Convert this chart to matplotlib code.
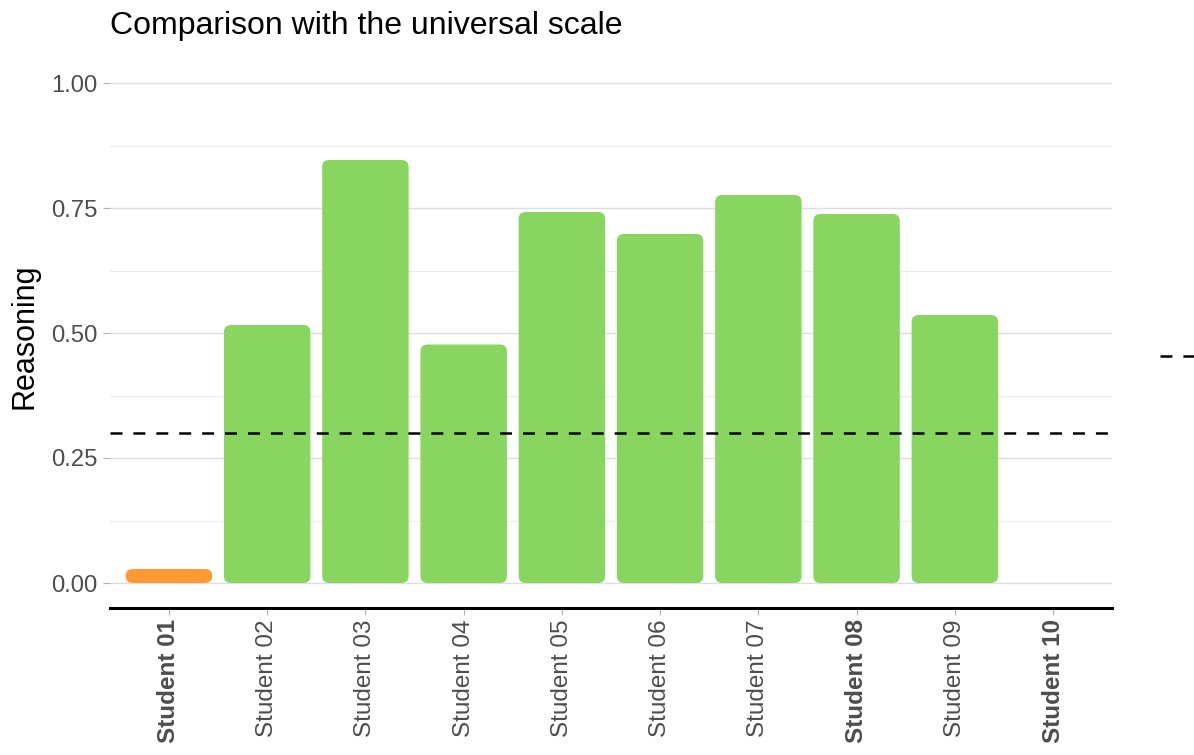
import matplotlib
matplotlib.use("Agg")
from matplotlib import pyplot as plt
from matplotlib.patches import FancyBboxPatch
from matplotlib.lines import Line2D

plt.rcParams['font.family'] = ['Liberation Sans', 'DejaVu Sans']
plt.rcParams['lines.scale_dashes'] = False

# data
students = ['Student 01', 'Student 02', 'Student 03', 'Student 04', 'Student 05',
            'Student 06', 'Student 07', 'Student 08', 'Student 09', 'Student 10']
reasoning = [0.028, 0.516, 0.846, 0.477, 0.742, 0.698, 0.776, 0.738, 0.536, 0.0]
universal = 0.30
bold_students = ['Student 01', 'Student 08', 'Student 10']

GREEN = '#88D660'
ORANGE = '#FF9A33'

fig = plt.figure(figsize=(11.94, 7.55), dpi=100)
ax = fig.add_axes([110 / 1194, 147 / 755, 1002 / 1194, 550 / 755])

ax.set_xlim(-0.6, len(students) - 0.4)
ax.set_ylim(-0.05, 1.05)

# rounded bars: radius in px converted to data units on both axes
px_x = 1002 / (ax.get_xlim()[1] - ax.get_xlim()[0])
px_y = 550 / (ax.get_ylim()[1] - ax.get_ylim()[0])
r_px = 7
width = 0.88
aspect = (r_px / px_y) / (r_px / px_x)
for i, (name, val) in enumerate(zip(students, reasoning)):
    col = GREEN if val >= universal else ORANGE
    if val <= 0:
        # zero bar: only a hairline of colour at the baseline
        ax.bar(i, val, width=width, color=col, edgecolor=col, linewidth=0, zorder=2)
        continue
    rs = min(r_px / px_x, val / aspect / 2)
    p = FancyBboxPatch((i - width / 2, 0), width, val,
                       boxstyle=f"round,pad=0,rounding_size={rs}",
                       mutation_aspect=aspect, facecolor=col, edgecolor='none', zorder=2)
    ax.add_patch(p)

ax.axhline(universal, color='black', lw=1.8, ls=(0, (8.6, 7.9)), zorder=3)

# grid
ax.set_yticks([0, 0.25, 0.5, 0.75, 1.0])
ax.set_yticklabels(['0.00', '0.25', '0.50', '0.75', '1.00'])
ax.set_yticks([0.125, 0.375, 0.625, 0.875], minor=True)
ax.grid(axis='y', which='major', color='#DEDEDE', lw=1.0, zorder=0)
ax.grid(axis='y', which='minor', color='#EBEBEB', lw=0.8, zorder=0)
ax.set_axisbelow(True)
ax.tick_params(axis='y', which='minor', length=0)
ax.tick_params(axis='y', which='major', length=5, width=0.8, color='#B3B3B3',
               labelsize=17.2, labelcolor='#4D4D4D', pad=4)

ax.set_xticks(range(len(students)))
ax.set_xticklabels(students, rotation=90, va='top', ha='center')
for lbl in ax.get_xticklabels():
    if lbl.get_text() in bold_students:
        lbl.set_fontweight('bold')
ax.tick_params(axis='x', length=5, width=0.8, color='#B3B3B3',
               labelsize=17.5, labelcolor='#4D4D4D', pad=3)

for s in ['top', 'right', 'left']:
    ax.spines[s].set_visible(False)
ax.spines['bottom'].set_color('black')
ax.spines['bottom'].set_linewidth(2.2)

fig.text(110 / 1194, 1 - 34 / 755, 'Comparison with the universal scale',
         fontsize=23, ha='left', va='baseline')
fig.text(25 / 1194, 1 - 336 / 755, 'Reasoning', fontsize=22, rotation=90,
         ha='center', va='center')

# legend key cut off at the right edge
fig.add_artist(Line2D([1160 / 1194, 1.0], [1 - 356 / 755, 1 - 356 / 755],
                      transform=fig.transFigure, color='black', lw=1.8,
                      ls=(0, (8.6, 7.9))))

fig.savefig('out.png', dpi=100)
